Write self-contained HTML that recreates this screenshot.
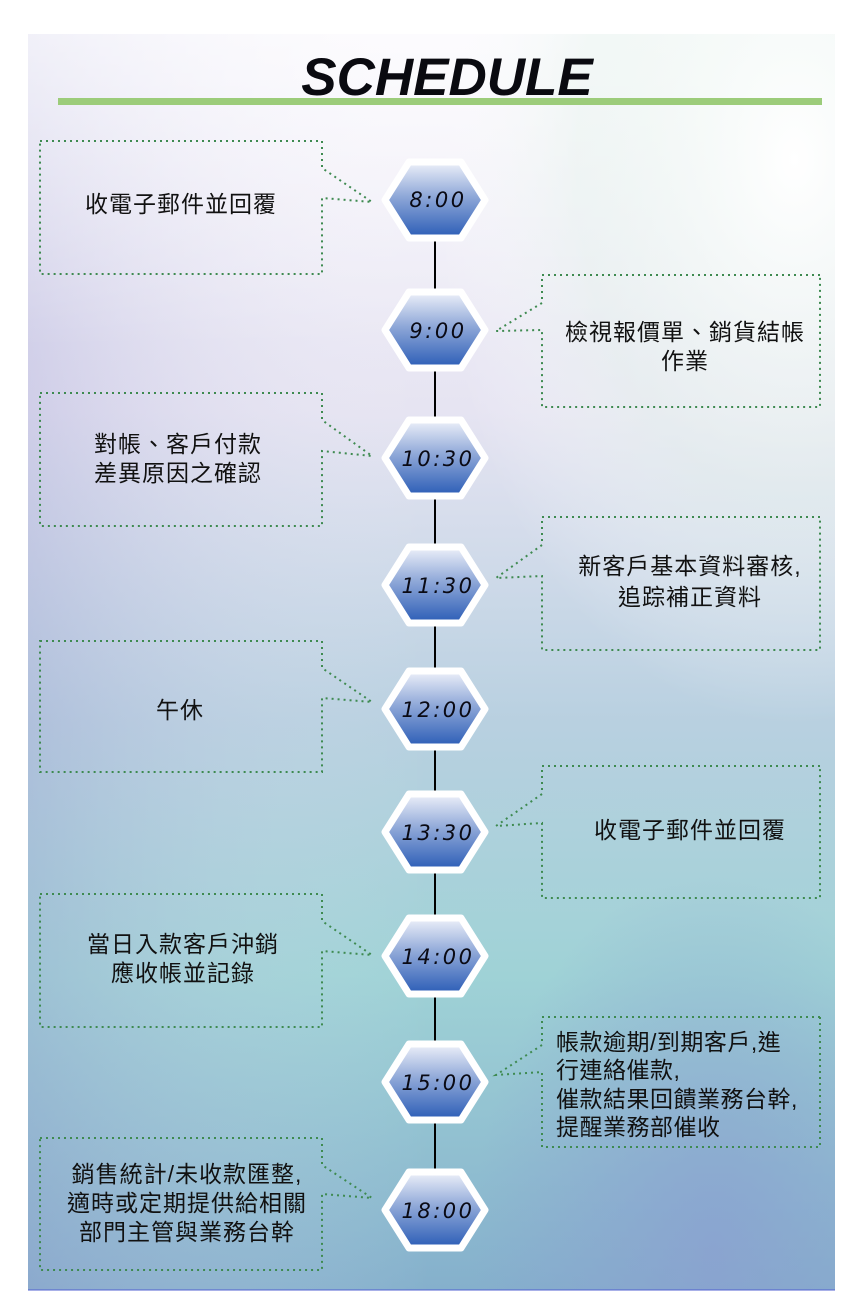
<!DOCTYPE html>
<html><head><meta charset="utf-8"><style>
html,body{margin:0;padding:0;background:#fff;}
svg{display:block}
</style></head><body>
<svg width="857" height="1316" viewBox="0 0 857 1316" xmlns="http://www.w3.org/2000/svg">
<defs>
<linearGradient id="bgv" x1="0" y1="0" x2="0" y2="1">
<stop offset="0" stop-color="#f8f6fc"/>
<stop offset="0.3" stop-color="#e6e4f2"/>
<stop offset="0.55" stop-color="#b8d0e0"/>
<stop offset="0.75" stop-color="#9fd2d6"/>
<stop offset="1" stop-color="#85b0cc"/>
</linearGradient>
<linearGradient id="bgh" x1="0" y1="0" x2="1" y2="0">
<stop offset="0" stop-color="#9a9ad0" stop-opacity="0.3"/>
<stop offset="0.5" stop-color="#ffffff" stop-opacity="0"/>
<stop offset="1" stop-color="#ffffff" stop-opacity="0"/>
</linearGradient>
<linearGradient id="tl" x1="0" y1="0" x2="0" y2="1">
<stop offset="0" stop-color="#ffffff" stop-opacity="0.6"/>
<stop offset="0.25" stop-color="#ffffff" stop-opacity="0"/>
</linearGradient>
<radialGradient id="tr" cx="0.95" cy="0.1" r="0.45">
<stop offset="0" stop-color="#ffffff" stop-opacity="1"/>
<stop offset="0.6" stop-color="#e8f4ee" stop-opacity="0.5"/>
<stop offset="1" stop-color="#ffffff" stop-opacity="0"/>
</radialGradient>
<radialGradient id="br" cx="0.85" cy="0.97" r="0.3">
<stop offset="0" stop-color="#8aa0d0" stop-opacity="0.8"/>
<stop offset="1" stop-color="#8aa0d0" stop-opacity="0"/>
</radialGradient>
<linearGradient id="hx" x1="0" y1="0" x2="0" y2="1">
<stop offset="0" stop-color="#eef1fa"/>
<stop offset="0.45" stop-color="#8fa8d8"/>
<stop offset="1" stop-color="#2a5cb6"/>
</linearGradient>
</defs>
<rect x="28" y="34" width="807" height="1256" fill="url(#bgv)"/>
<rect x="28" y="34" width="807" height="1256" fill="url(#bgh)"/>
<rect x="28" y="34" width="807" height="1256" fill="url(#tl)"/>
<rect x="28" y="34" width="807" height="1256" fill="url(#tr)"/>
<rect x="28" y="34" width="807" height="1256" fill="url(#br)"/>
<line x1="28" y1="1290" x2="835" y2="1290" stroke="#5060d0" stroke-width="1"/>

<text x="447" y="95" text-anchor="middle" font-family="Liberation Sans, sans-serif" font-size="53" font-weight="bold" font-style="italic" fill="#0a0a10">SCHEDULE</text>
<rect x="58" y="98" width="764" height="7" fill="#9ccc7a"/>

<line x1="435" y1="200" x2="435" y2="1210" stroke="#000" stroke-width="2"/>

<g fill="none" stroke="#3e8a50" stroke-width="2" stroke-dasharray="2 4">
<path d="M40 141 H322 V168 L372 202 L322 198 V274 H40 Z"/>
<path d="M40 393 H322 V420 L372 456 L322 451 V526 H40 Z"/>
<path d="M40 641 H322 V668 L372 702 L322 698 V772 H40 Z"/>
<path d="M40 894 H322 V921 L372 955 L322 951 V1027 H40 Z"/>
<path d="M40 1138 H322 V1165 L372 1198 L322 1194 V1270 H40 Z"/>
<path d="M820 275 H542 V303 L496 331 L542 330 V407 H820 Z"/>
<path d="M820 517 H542 V545 L496 578 L542 576 V650 H820 Z"/>
<path d="M820 766 H542 V794 L496 826 L542 823 V898 H820 Z"/>
<path d="M820 1017 H542 V1045 L496 1075 L542 1072 V1147 H820 Z"/>
</g>

<g stroke="#ffffff" stroke-width="7" stroke-linejoin="round" fill="url(#hx)">
<path d="M385 200 L409 162 H461 L485 200 L461 238 H409 Z"/>
<path d="M385 330 L409 292 H461 L485 330 L461 368 H409 Z"/>
<path d="M385 458 L409 420 H461 L485 458 L461 496 H409 Z"/>
<path d="M385 585 L409 547 H461 L485 585 L461 623 H409 Z"/>
<path d="M385 709 L409 671 H461 L485 709 L461 747 H409 Z"/>
<path d="M385 832 L409 794 H461 L485 832 L461 870 H409 Z"/>
<path d="M385 956 L409 918 H461 L485 956 L461 994 H409 Z"/>
<path d="M385 1082 L409 1044 H461 L485 1082 L461 1120 H409 Z"/>
<path d="M385 1210 L409 1172 H461 L485 1210 L461 1248 H409 Z"/>
</g>
<g font-family="DejaVu Sans, Liberation Sans, sans-serif" font-size="21" font-style="italic" fill="#0a0a14" text-anchor="middle" letter-spacing="2.5">
<text x="438" y="207">8:00</text>
<text x="438" y="338">9:00</text>
<text x="438" y="466">10:30</text>
<text x="438" y="593">11:30</text>
<text x="438" y="717">12:00</text>
<text x="438" y="840">13:30</text>
<text x="438" y="964">14:00</text>
<text x="438" y="1090">15:00</text>
<text x="438" y="1218">18:00</text>
</g>

<g font-family="Liberation Sans, Noto Sans CJK TC, sans-serif" font-size="23" fill="#111" text-anchor="middle" letter-spacing="1">
<text x="181" y="212">收電子郵件並回覆</text>
<text x="685" y="340">檢視報價單、銷貨結帳</text>
<text x="685" y="369">作業</text>
<text x="178" y="452">對帳、客戶付款</text>
<text x="178" y="481">差異原因之確認</text>
<text x="690" y="574">新客戶基本資料審核,</text>
<text x="690" y="605">追踪補正資料</text>
<text x="180" y="718">午休</text>
<text x="690" y="838">收電子郵件並回覆</text>
<text x="183" y="952">當日入款客戶沖銷</text>
<text x="183" y="981">應收帳並記錄</text>
<text x="187" y="1182">銷售統計/未收款匯整,</text>
<text x="187" y="1211">適時或定期提供給相關</text>
<text x="187" y="1240">部門主管與業務台幹</text>
</g>
<g font-family="Liberation Sans, Noto Sans CJK TC, sans-serif" font-size="23" fill="#111" letter-spacing="0.5">
<text x="556" y="1050">帳款逾期/到期客戶,進</text>
<text x="556" y="1078">行連絡催款,</text>
<text x="556" y="1107">催款結果回饋業務台幹,</text>
<text x="556" y="1135">提醒業務部催收</text>
</g>
</svg>
</body></html>
